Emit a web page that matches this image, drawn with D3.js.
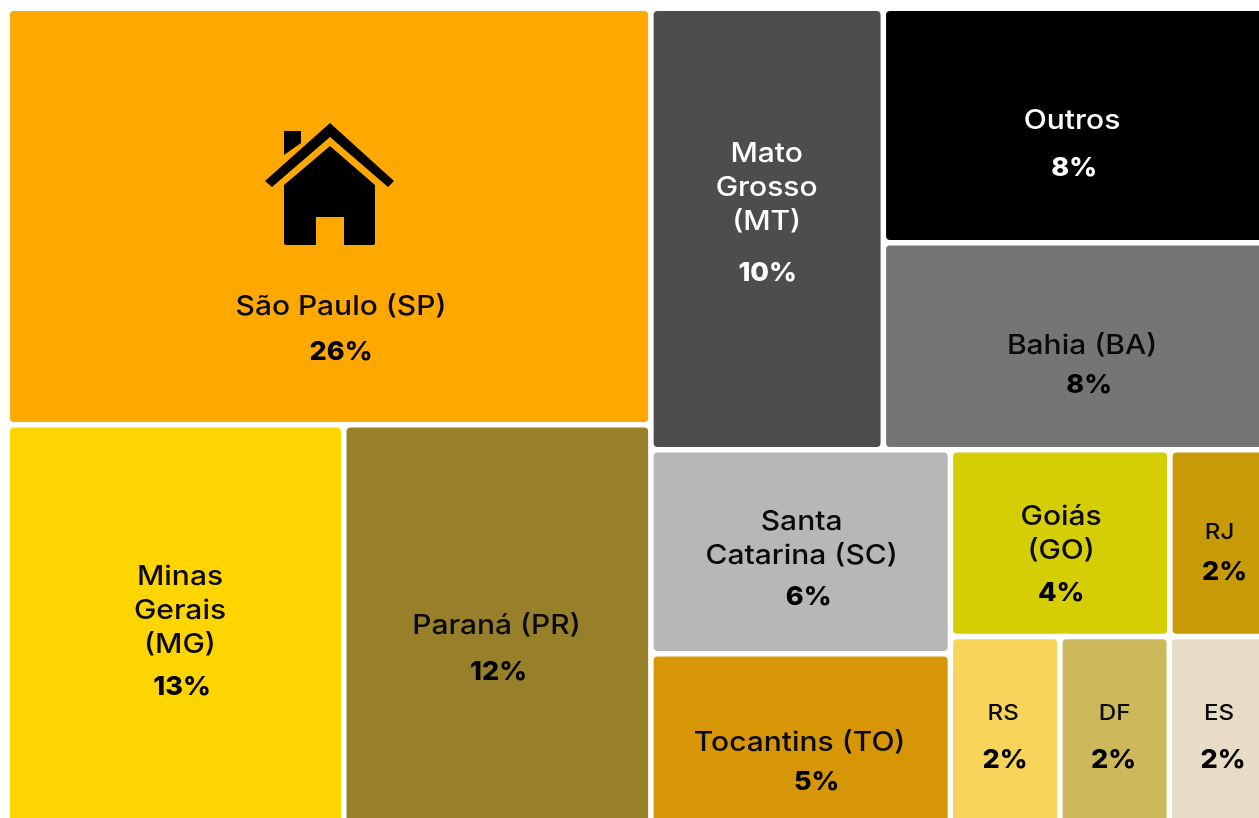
<!DOCTYPE html>
<html><head><meta charset="utf-8">
<script src="https://cdn.jsdelivr.net/npm/d3@7/dist/d3.min.js"></script>
<style>html,body{margin:0;padding:0;background:#fff;overflow:hidden}svg{display:block;filter:blur(.55px)}</style>
</head><body>
<script>
// Data
const codes  = ["SP","MG","PR","MT","OU","BA","SC","TO","GO","RJ","RS","DF","ES"];
const names  = [["São Paulo (SP)"],["Minas","Gerais","(MG)"],["Paraná (PR)"],["Mato","Grosso","(MT)"],["Outros"],["Bahia (BA)"],["Santa","Catarina (SC)"],["Tocantins (TO)"],["Goiás","(GO)"],["RJ"],["RS"],["DF"],["ES"]];
const shareLabels = ["26%","13%","12%","10%","8%","8%","6%","5%","4%","2%","2%","2%","2%"];
const values = [25.44,13.16,12.01,9.74,8.80,7.77,5.80,5.20,3.89,1.93,2.08,2.08,2.08];

// Nesting of the layout (h = side by side, v = stacked)
const layout = {dir:"h",kids:[
  {dir:"v",kids:["SP",{dir:"h",kids:["MG","PR"]}]},
  {dir:"v",kids:[
    {dir:"h",kids:["MT",{dir:"v",kids:["OU","BA"]}]},
    {dir:"h",kids:[{dir:"v",kids:["SC","TO"]},
      {dir:"v",kids:[{dir:"h",kids:["GO","RJ"]},{dir:"h",kids:["RS","DF","ES"]}]}]}
  ]}
]};
const colors = {SP:"#ffa800",MG:"#ffd500",PR:"#98802a",MT:"#4d4d4e",OU:"#000000",BA:"#757575",SC:"#b7b7b7",TO:"#d79605",GO:"#d6ce04",RJ:"#c89a05",RS:"#f9d45a",DF:"#cdb85c",ES:"#e8dcc6"};
const inkWhite = new Set(["MT","OU"]);
// label anchors relative to each cell's top-left: [name x, first line y, share x, share y]
const anchors = {SP:[331,294,331,339],MT:[113,141,114,260],OU:[186,108,188,155],BA:[196,99,203,138],MG:[170,148,172,258],PR:[150,197,152,243],SC:[148,68,155,143],TO:[146,84,163,124],GO:[108,63,108,139],RJ:[47,79,52,118],RS:[50,73,52,119],DF:[52,73,51,119],ES:[47,73,51,119]};
const smallCells = new Set(["RJ","RS","DF","ES"]);
const lineHeight = 34;
const fontFamily = "Inter, 'Open Sans', sans-serif";

const svg = d3.select("body").append("svg").attr("width",1259).attr("height",818);
const g = svg.append("g").attr("transform","translate(10,11)");

const valueOf = c => values[codes.indexOf(c)];
const root = d3.hierarchy(layout, d => d.kids ? d.kids.map(k => typeof k==="string" ? {code:k} : k) : null)
  .sum(d => d.code ? valueOf(d.code) : 0);
d3.treemap()
  .size([1266,823])
  .paddingInner(5.5)
  .round(false)
  .tile((node,x0,y0,x1,y1) => (node.data.dir==="h" ? d3.treemapDice : d3.treemapSlice)(node,x0,y0,x1,y1))(root);

const cells = g.selectAll("g.cell").data(root.leaves()).join("g").attr("class","cell")
  .attr("transform",d=>`translate(${d.x0},${d.y0})`);
cells.append("rect")
  .attr("width",d=>d.x1-d.x0).attr("height",d=>d.y1-d.y0)
  .attr("rx",4).attr("fill",d=>colors[d.data.code]);

cells.each(function(d){
  const c = d.data.code, i = codes.indexOf(c), a = anchors[c], sel = d3.select(this);
  const ink = inkWhite.has(c) ? "#fff" : "#0a0a0a";
  const small = smallCells.has(c);
  names[i].forEach((line,k)=>{
    sel.append("text").text(line)
      .attr("transform",`translate(${a[0]},${a[1]+k*lineHeight}) scale(${small?1.15:1.11},1)`)
      .attr("text-anchor","middle").attr("dominant-baseline","central")
      .attr("font-family",fontFamily).attr("font-weight",500).attr("font-size",small?21:27).attr("fill",ink);
  });
  sel.append("text").text(shareLabels[i])
    .attr("transform",`translate(${a[2]},${a[3]}) scale(1.04,1)`)
    .attr("text-anchor","middle").attr("dominant-baseline","central")
    .attr("font-family",fontFamily).attr("font-weight",800).attr("font-size",26).attr("fill",inkWhite.has(c)?"#fff":"#000");
});

// House pictogram
svg.append("path").attr("fill","#000").attr("d",
 "M330 123L394 181L388 187L330 137L272 187L265 181Z"+
 "M330 146L375 185L375 243Q375 245 373 245L344 245L344 217L316 217L316 245L286 245Q284 245 284 243L284 185Z"+
 "M284 131L301 131L301 143L284 155Z");
</script>
</body></html>
